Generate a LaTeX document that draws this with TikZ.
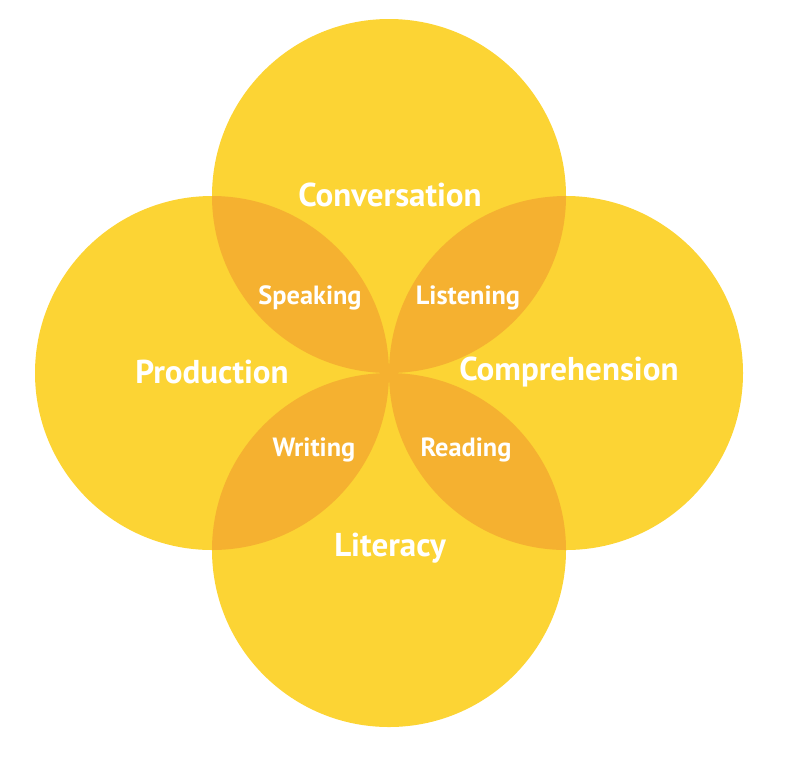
\documentclass[tikz,border=0pt]{standalone}
\usepackage{fontspec}
\setsansfont{PT Sans}
\usetikzlibrary{positioning}
\definecolor{circleYellow}{RGB}{252,212,52}
\definecolor{lensOrange}{RGB}{245,177,48}

\begin{document}
\begin{tikzpicture}[
  x=0.02cm, y=-0.02cm,
  big/.style={text=white, font=\sffamily\bfseries\fontsize{18.8}{22}\selectfont},
  small/.style={text=white, font=\sffamily\bfseries\fontsize{15}{18}\selectfont},
]
\useasboundingbox (0,0) rectangle (790,762);

% --- Circle centres ------------------------------------------------
\coordinate (top)    at (389,196);
\coordinate (bottom) at (389,550);
\coordinate (left)   at (212,373);
\coordinate (right)  at (566,373);

% --- Circles -------------------------------------------------------
\foreach \c in {top, bottom, left, right} {
  \fill[circleYellow] (\c) circle[radius=177];
}

% --- Overlaps ------------------------------------------------------
\foreach \a/\b in {top/left, top/right, bottom/left, bottom/right} {
  \begin{scope}
    \clip (\a) circle[radius=177];
    \fill[lensOrange] (\b) circle[radius=177];
  \end{scope}
}

% --- Labels --------------------------------------------------------
\node[big] (conversation)  at (390,195) {Conversation};
\node[big] (production)    at (212,372) {Production};
\node[big] (comprehension) at (569,372) {Comprehension};
\node[big] (literacy)      at (390,548) {Literacy};

\node[small] (speaking)  at (310,298) {Speaking};
\node[small] (listening) at (468,298) {Listening};
\node[small] (writing)   at (314,450) {Writing};
\node[small] (reading)   at (466,450) {Reading};
\end{tikzpicture}
\end{document}
